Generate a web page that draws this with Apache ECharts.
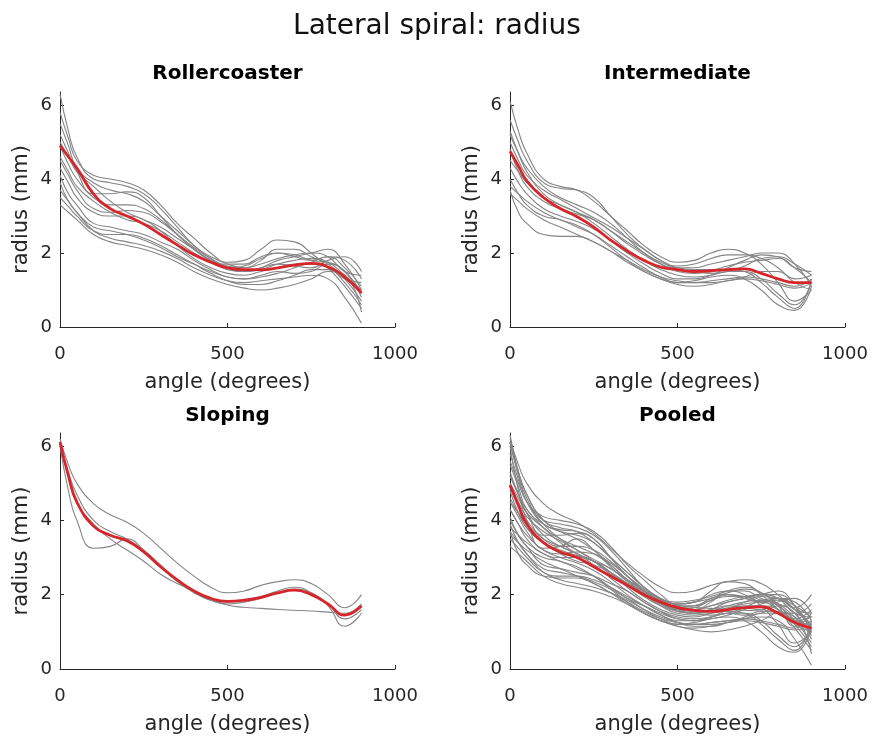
<!DOCTYPE html>
<html>
<head>
<meta charset="utf-8">
<script src="https://cdn.jsdelivr.net/npm/echarts@6/dist/echarts.min.js"></script>
<style>
  html, body { margin: 0; padding: 0; background: #ffffff; }
  #chart { width: 874px; height: 740px; }
</style>
</head>
<body>
<div id="chart"></div>
<script>
// Sample angles (degrees) shared by every trace
const angles = [0, 25, 50, 100, 150, 200, 250, 300, 350, 400, 450, 500, 550, 600, 650, 700, 750, 800, 850, 900];

// Individual radius traces (mm), one row per trial
const rollercoasterRuns = [
  [6.3, 5.3, 4.6, 4.0, 3.9, 3.8, 3.6, 3.2, 2.7, 2.2, 1.9, 1.7, 1.6, 1.8, 2.1, 2.1, 1.9, 1.7, 1.3, 0.7],
  [5.8, 5.1, 4.5, 4.1, 4.0, 3.9, 3.7, 3.3, 2.8, 2.4, 2.0, 1.75, 1.8, 2.1, 2.35, 2.3, 2.0, 1.6, 1.1, 0.5],
  [5.5, 4.9, 4.3, 3.9, 3.7, 3.6, 3.4, 3.0, 2.6, 2.2, 1.85, 1.6, 1.5, 1.6, 1.8, 1.9, 2.0, 2.1, 1.7, 1.0],
  [5.2, 4.7, 4.2, 3.6, 3.6, 3.65, 3.5, 3.0, 2.5, 2.1, 1.8, 1.7, 1.7, 1.9, 2.0, 1.9, 1.8, 1.9, 1.8, 1.3],
  [4.9, 4.4, 4.0, 3.5, 3.3, 3.3, 3.2, 2.9, 2.5, 2.1, 1.8, 1.6, 1.5, 1.55, 1.7, 1.8, 1.85, 1.75, 1.4, 1.0],
  [4.6, 4.2, 3.8, 3.4, 3.1, 2.9, 2.8, 2.6, 2.3, 2.0, 1.75, 1.55, 1.5, 1.6, 1.7, 1.65, 1.6, 1.8, 1.9, 1.5],
  [4.3, 3.9, 3.5, 3.1, 3.0, 3.0, 2.9, 2.6, 2.2, 1.85, 1.6, 1.45, 1.4, 1.5, 1.6, 1.7, 1.7, 1.6, 1.2, 0.6],
  [4.1, 3.6, 3.3, 2.8, 2.7, 2.6, 2.5, 2.3, 2.1, 1.8, 1.55, 1.35, 1.3, 1.35, 1.45, 1.6, 1.75, 1.9, 1.6, 1.1],
  [3.9, 3.4, 3.1, 2.7, 2.6, 2.5, 2.35, 2.15, 1.9, 1.7, 1.5, 1.35, 1.3, 1.4, 1.5, 1.45, 1.5, 1.7, 1.5, 0.8],
  [3.7, 3.4, 3.1, 2.6, 2.4, 2.3, 2.2, 2.05, 1.85, 1.6, 1.4, 1.25, 1.2, 1.25, 1.3, 1.35, 1.4, 1.3, 0.8, 0.1],
  [3.5, 3.25, 3.0, 2.6, 2.5, 2.5, 2.4, 2.2, 1.95, 1.7, 1.45, 1.25, 1.15, 1.15, 1.25, 1.4, 1.55, 1.55, 1.3, 1.2],
  [3.3, 3.1, 2.9, 2.5, 2.3, 2.2, 2.1, 1.95, 1.75, 1.5, 1.3, 1.15, 1.05, 1.0, 1.05, 1.15, 1.3, 1.5, 1.4, 0.4],
  [5.0, 4.6, 4.2, 3.8, 3.4, 3.1, 2.9, 2.7, 2.4, 2.1, 1.8, 1.6, 1.65, 1.85, 2.0, 1.95, 1.8, 1.75, 1.5, 0.9],
  [4.5, 4.1, 3.7, 3.2, 3.1, 3.15, 3.1, 2.85, 2.5, 2.15, 1.85, 1.65, 1.6, 1.7, 1.85, 1.95, 2.0, 1.9, 1.5, 1.4]
];
const rollercoasterMean = [4.9, 4.6, 4.3, 3.6, 3.2, 3.0, 2.78, 2.5, 2.22, 1.95, 1.75, 1.6, 1.55, 1.55, 1.6, 1.67, 1.72, 1.62, 1.35, 0.92];

const intermediateRuns = [
  [6.1, 5.3, 4.7, 4.0, 3.8, 3.7, 3.4, 3.0, 2.6, 2.2, 1.9, 1.75, 1.8, 2.0, 2.1, 2.0, 1.7, 1.2, 0.7, 1.0],
  [5.6, 5.0, 4.5, 3.9, 3.75, 3.7, 3.5, 3.0, 2.5, 2.1, 1.8, 1.6, 1.6, 1.7, 1.8, 1.9, 2.0, 2.0, 1.7, 1.1],
  [5.2, 4.7, 4.3, 3.8, 3.5, 3.3, 3.1, 2.8, 2.4, 2.0, 1.7, 1.5, 1.45, 1.5, 1.55, 1.5, 1.2, 0.8, 0.5, 1.3],
  [5.0, 4.5, 4.1, 3.7, 3.45, 3.2, 2.95, 2.7, 2.4, 2.1, 1.8, 1.65, 1.7, 1.85, 1.95, 1.95, 1.85, 1.6, 1.2, 1.0],
  [4.8, 4.2, 3.8, 3.4, 3.2, 3.05, 2.9, 2.6, 2.25, 1.95, 1.7, 1.55, 1.5, 1.45, 1.5, 1.65, 1.85, 1.9, 1.7, 1.4],
  [4.5, 4.2, 3.9, 3.5, 3.3, 3.1, 2.8, 2.45, 2.1, 1.8, 1.55, 1.4, 1.35, 1.4, 1.5, 1.5, 1.3, 0.9, 0.6, 1.2],
  [4.3, 3.9, 3.6, 3.2, 3.0, 2.85, 2.65, 2.35, 2.0, 1.7, 1.45, 1.3, 1.3, 1.4, 1.6, 1.8, 1.95, 1.9, 1.6, 1.5],
  [4.0, 3.6, 3.3, 3.0, 2.9, 2.7, 2.5, 2.2, 1.9, 1.6, 1.35, 1.2, 1.2, 1.25, 1.3, 1.35, 1.3, 1.2, 1.1, 1.3],
  [3.8, 3.6, 3.4, 3.1, 2.9, 2.75, 2.5, 2.15, 1.8, 1.5, 1.3, 1.2, 1.25, 1.35, 1.4, 1.3, 1.0, 0.6, 0.45, 1.1],
  [3.7, 3.1, 2.8, 2.5, 2.45, 2.45, 2.3, 2.05, 1.75, 1.5, 1.3, 1.15, 1.1, 1.15, 1.25, 1.3, 1.25, 1.15, 1.05, 1.2],
  [3.6, 3.4, 3.2, 2.9, 2.7, 2.5, 2.3, 2.05, 1.8, 1.55, 1.35, 1.25, 1.2, 1.2, 1.25, 1.35, 1.5, 1.5, 1.3, 1.4],
  [5.3, 4.7, 4.2, 3.6, 3.3, 3.1, 2.9, 2.6, 2.3, 2.0, 1.75, 1.6, 1.55, 1.55, 1.65, 1.75, 1.8, 1.85, 1.6, 1.2]
];
const intermediateMean = [4.75, 4.35, 3.95, 3.5, 3.2, 2.98, 2.7, 2.35, 2.05, 1.8, 1.62, 1.55, 1.5, 1.52, 1.55, 1.57, 1.45, 1.3, 1.2, 1.2];

const slopingRuns = [
  [6.2, 5.5, 5.0, 4.45, 4.15, 3.95, 3.65, 3.25, 2.85, 2.5, 2.2, 2.05, 2.1, 2.25, 2.35, 2.4, 2.3, 2.0, 1.65, 2.0],
  [6.0, 4.8, 4.0, 3.25, 3.3, 3.5, 3.2, 2.75, 2.35, 2.05, 1.85, 1.75, 1.8, 1.9, 2.05, 2.15, 2.05, 1.75, 1.35, 1.6],
  [6.1, 5.2, 4.5, 3.9, 3.5, 3.2, 2.9, 2.55, 2.3, 2.1, 1.88, 1.72, 1.66, 1.63, 1.6, 1.58, 1.56, 1.53, 1.5, 1.75],
  [6.1, 5.3, 4.7, 4.0, 3.7, 3.5, 3.2, 2.8, 2.4, 2.1, 1.85, 1.8, 1.85, 1.95, 2.1, 2.2, 2.05, 1.7, 1.15, 1.5]
];
const slopingMean = [6.1, 5.2, 4.5, 3.85, 3.6, 3.45, 3.15, 2.75, 2.4, 2.1, 1.9, 1.82, 1.85, 1.93, 2.05, 2.12, 2.0, 1.75, 1.45, 1.7];

// Pooled panel shows every trial from the three groups
const pooledRuns = [...rollercoasterRuns, ...intermediateRuns, ...slopingRuns];
const pooledMean = [4.95, 4.4, 3.9, 3.4, 3.15, 3.0, 2.75, 2.5, 2.25, 2.0, 1.8, 1.65, 1.58, 1.55, 1.6, 1.65, 1.67, 1.5, 1.25, 1.1];

// Axis ticks
const xTicks = [0, 500, 1000];
const yTicks = [0, 2, 4, 6];

const FONT = 'DejaVu Sans';
const TEXT = '#262626';
const GRAY = '#858585';
const RED = '#d7262b';

const panels = [
  { name: 'Rollercoaster', runs: rollercoasterRuns, mean: rollercoasterMean, left: 60,  top: 92,  height: 235 },
  { name: 'Intermediate',  runs: intermediateRuns,  mean: intermediateMean,  left: 510, top: 92,  height: 235 },
  { name: 'Sloping',       runs: slopingRuns,       mean: slopingMean,       left: 60,  top: 433, height: 236 },
  { name: 'Pooled',        runs: pooledRuns,        mean: pooledMean,        left: 510, top: 433, height: 236 }
];
const PANEL_W = 335;

const toPoints = vals => angles.map((a, i) => [a, vals[i]]);
const plainNumber = v => String(v);

const grid = [], xAxis = [], yAxis = [], series = [], graphic = [];

graphic.push({
  type: 'text', x: 437, y: 27,
  style: { text: 'Lateral spiral: radius', font: `28px "${FONT}"`, fill: '#111', textAlign: 'center', textVerticalAlign: 'middle' }
});

panels.forEach((p, k) => {
  grid.push({ left: p.left, top: p.top, width: PANEL_W, height: p.height, outerBoundsMode: 'none', containLabel: false });
  xAxis.push({
    type: 'value', gridIndex: k, min: 0, max: 1000, interval: 500,
    name: 'angle (degrees)', nameLocation: 'middle', nameGap: 45,
    nameTextStyle: { fontFamily: FONT, fontSize: 21, color: TEXT },
    axisLine: { show: true, onZero: false, lineStyle: { color: TEXT, width: 1 } },
    axisTick: { show: true, inside: true, length: 4, lineStyle: { color: TEXT }, customValues: xTicks },
    axisLabel: { fontFamily: FONT, fontSize: 18, color: TEXT, margin: 18, customValues: xTicks, formatter: plainNumber },
    splitLine: { show: false }
  });
  yAxis.push({
    type: 'value', gridIndex: k, min: 0, max: 6.35, interval: 2,
    name: 'radius (mm)', nameLocation: 'middle', nameGap: 28,
    nameTextStyle: { fontFamily: FONT, fontSize: 21, color: TEXT },
    axisLine: { show: true, onZero: false, lineStyle: { color: TEXT, width: 1 } },
    axisTick: { show: true, inside: true, length: 4, lineStyle: { color: TEXT }, customValues: yTicks },
    axisLabel: { fontFamily: FONT, fontSize: 18, color: TEXT, margin: 8, customValues: yTicks, formatter: plainNumber },
    splitLine: { show: false }
  });
  p.runs.forEach(run => {
    series.push({
      type: 'line', xAxisIndex: k, yAxisIndex: k, data: toPoints(run),
      smooth: true, showSymbol: false, symbol: 'none', silent: true, z: 2,
      lineStyle: { color: GRAY, width: 1.1 }
    });
  });
  series.push({
    type: 'line', xAxisIndex: k, yAxisIndex: k, data: toPoints(p.mean),
    smooth: true, showSymbol: false, symbol: 'none', silent: true, z: 3,
    lineStyle: { color: RED, width: 2.8 }
  });
  graphic.push({
    type: 'text', x: p.left + PANEL_W / 2, y: p.top < 200 ? 74 : 416,
    style: { text: p.name, font: `bold 20px "${FONT}"`, fill: '#000', textAlign: 'center', textVerticalAlign: 'middle' }
  });
});

const chart = echarts.init(document.getElementById('chart'), null, { renderer: 'canvas' });
chart.setOption({
  animation: false,
  backgroundColor: '#ffffff',
  grid, xAxis, yAxis, series, graphic
});
</script>
</body>
</html>
